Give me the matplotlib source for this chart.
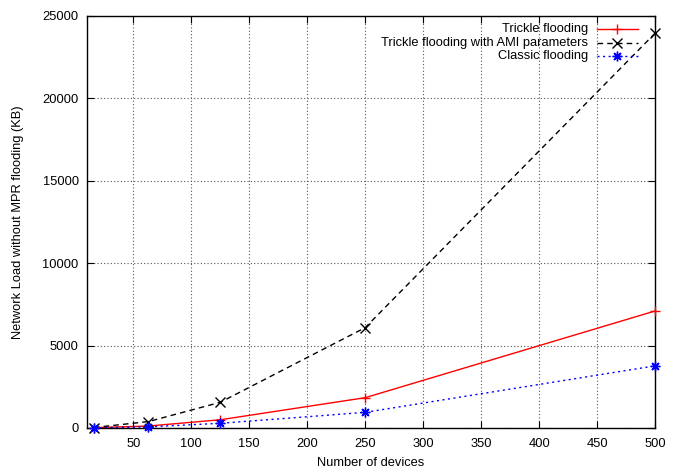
import numpy as np
import matplotlib
matplotlib.use("Agg")
import matplotlib.pyplot as plt

devices = [16, 63, 125, 250, 500]
trickle = [20, 120, 500, 1840, 7100]
trickle_ami = [30, 390, 1560, 6090, 23950]
classic = [10, 70, 285, 950, 3770]

labels = ["Trickle flooding", "Trickle flooding with AMI parameters", "Classic flooding"]
colors = ["#ff0000", "#000000", "#0000ff"]
markers = ["+", "x", (8, 2, 0)]
linestyles = ["-", (0, (4, 3)), (0, (1.5, 2.5))]

x_ticks = list(range(50, 501, 50))
y_ticks = list(range(0, 25001, 5000))

plt.rcParams['font.family'] = ['Liberation Sans', 'DejaVu Sans']

fig = plt.figure(figsize=(6.78, 4.68), dpi=100)
ax = fig.add_axes([87 / 678, 1 - 428 / 468, (655 - 87) / 678, (428 - 16) / 468])

series = [trickle, trickle_ami, classic]
for ys, c, m, ls in zip(series, colors, markers, linestyles):
    ax.plot(devices, ys, color=c, linestyle=ls, linewidth=1.0)
    ax.plot(devices, ys, linestyle='none', marker=m, color=c, markersize=7,
            markeredgewidth=1.0, clip_on=False, zorder=3)

ax.set_xlim(10, 500)
ax.set_ylim(0, 25000)
ax.set_xticks(x_ticks)
ax.set_yticks(y_ticks)
ax.tick_params(direction='in', top=True, right=True, length=5, width=0.8, labelsize=9.3)
ax.tick_params(axis='x', pad=7)
ax.tick_params(axis='y', pad=6)
ax.grid(True, linestyle=(0, (1, 2)), color='#555555', linewidth=0.8)
for s in ax.spines.values():
    s.set_linewidth(1.0)
ax.set_xlabel("Number of devices", fontsize=9.3, labelpad=5)
ax.set_ylabel("Network Load without MPR flooding (KB)", fontsize=9.3, labelpad=13)

# legend (gnuplot style: right-aligned text then sample)
leg_rows = [29, 43, 56]
for lab, c, m, ls, yp in zip(labels, colors, markers, linestyles, leg_rows):
    yy = 1 - yp / 468
    fig.text(588 / 678, yy, lab, ha='right', va='center', fontsize=9.3)
    fig.add_artist(plt.Line2D([597 / 678, 638 / 678], [yy, yy], color=c, linestyle=ls,
                              linewidth=1.0, transform=fig.transFigure))
    fig.add_artist(plt.Line2D([617 / 678], [yy], color=c, marker=m, markersize=7,
                              markeredgewidth=1.0, linestyle='none', transform=fig.transFigure))

fig.savefig("out.png", dpi=100)
